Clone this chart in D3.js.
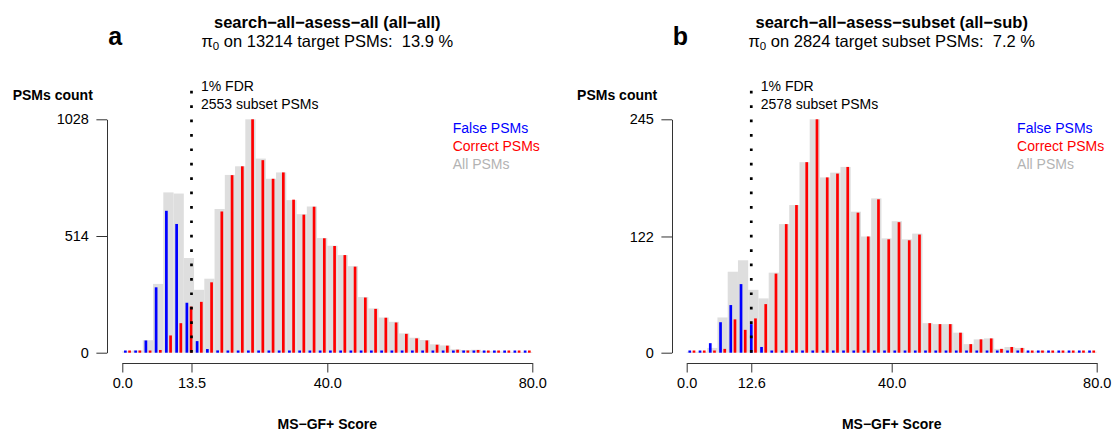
<!DOCTYPE html>
<html>
<head>
<meta charset="utf-8">
<script src="https://cdn.jsdelivr.net/npm/d3@7"></script>
<style>
  body { margin: 0; background: #fff; }
  svg text { font-family: "Liberation Sans", Arial, Helvetica, sans-serif; }
</style>
</head>
<body>
<svg id="chart" width="1112" height="432"></svg>
<script>
// score bins, width 2
var binWidth = 2;
var binStarts = [0, 2, 4, 6, 8, 10, 12, 14, 16, 18, 20, 22, 24, 26, 28, 30, 32, 34, 36, 38,
                 40, 42, 44, 46, 48, 50, 52, 54, 56, 58, 60, 62, 64, 66, 68, 70, 72, 74, 76, 78];

// panel a: search-all-asess-all
var falseA   = [2, 5, 54, 288, 625, 567, 220, 51, 16, 10, 4, 3, 3, 3, 2, 3, 2, 2, 2, 2,
                2, 2, 1, 1, 1, 1, 1, 1, 1, 1, 1, 1, 1, 1, 1, 1, 1, 1, 1, 1];
var correctA = [4, 5, 1, 12, 76, 130, 203, 224, 310, 622, 782, 821, 1028, 848, 766, 794, 674, 608, 643, 504,
                470, 430, 379, 243, 193, 154, 133, 83, 63, 54, 35, 31, 13, 9, 12, 4, 4, 3, 3, 3];
var allA     = [6, 10, 55, 303, 706, 701, 417, 277, 326, 633, 783, 821, 1028, 855, 766, 794, 672, 610, 644, 505,
                471, 430, 381, 245, 195, 155, 136, 85, 66, 56, 37, 32, 15, 12, 13, 7, 6, 4, 3, 3];
var yTicksA = [0, 514, 1028];
var xTicksA = [0, 13.5, 40, 80];
var fdrA = 13.5;

// panel b: search-all-asess-subset
var falseB   = [1, 1, 10, 32, 50, 72, 30, 6, 1, 1, 1, 1, 1, 1, 1, 1, 1, 1, 1, 1,
                1, 1, 1, 1, 1, 1, 1, 1, 1, 1, 1, 1, 1, 1, 1, 1, 1, 1, 1, 1];
var correctB = [1, 1, 1, 4, 35, 24, 36, 51, 83, 135, 155, 200, 245, 184, 188, 195, 147, 122, 161, 119,
                137, 118, 124, 31, 30, 30, 21, 9, 14, 15, 4, 6, 5, 1, 2, 1, 1, 1, 1, 1];
var allB     = [1, 1, 5, 37, 85, 97, 66, 57, 84, 135, 155, 200, 245, 184, 189, 195, 148, 122, 162, 120,
                138, 119, 125, 31, 30, 30, 21, 9, 14, 15, 4, 6, 5, 1, 2, 1, 1, 1, 1, 1];
var yTicksB = [0, 122, 245];
var xTicksB = [0, 12.6, 40, 80];
var fdrB = 12.6;

var panels = [
    { letter: "a", title: "search\u2212all\u2212asess\u2212all (all\u2212all)",
      piText: " on 13214 target PSMs:  13.9 %", subsetText: "2553 subset PSMs",
      falseV: falseA, correctV: correctA, allV: allA, yTicks: yTicksA, xTicks: xTicksA, fdr: fdrA, left: 122.3 },
    { letter: "b", title: "search\u2212all\u2212asess\u2212subset (all\u2212sub)",
      piText: " on 2824 target subset PSMs:  7.2 %", subsetText: "2578 subset PSMs",
      falseV: falseB, correctV: correctB, allV: allB, yTicks: yTicksB, xTicks: xTicksB, fdr: fdrB, left: 686.7 }
];

var svg = d3.select("#chart");
var plotW = 410, y0 = 352.7, yTop = 119.3, xAxisY = 363.3;
var barW = 2.7, minH = 2.2;

panels.forEach(function (p) {
    var g = svg.append("g");
    var x = d3.scaleLinear().domain([0, 80]).range([p.left, p.left + plotW]);
    var y = d3.scaleLinear().domain([0, p.yTicks[p.yTicks.length - 1]]).range([y0, yTop]);
    var cx = p.left + plotW / 2;

    // all PSMs (gray background bins)
    g.append("g").selectAll("rect")
        .data(binStarts)
        .join("rect")
        .attr("x", function (d) { return x(d); })
        .attr("width", function (d) { return x(d + binWidth) - x(d); })
        .attr("y", function (d, i) { return y(p.allV[i]); })
        .attr("height", function (d, i) { return y(0) - y(p.allV[i]); })
        .attr("fill", "#dedede");

    // false and correct PSMs as thin bars inside each bin
    function thinBars(values, offset, color) {
        g.append("g").selectAll("rect")
            .data(binStarts)
            .join("rect")
            .attr("x", function (d) { return x(d + offset) - barW / 2; })
            .attr("width", barW)
            .attr("y", function (d, i) { return y(0) - Math.max(y(0) - y(values[i]), minH); })
            .attr("height", function (d, i) { return Math.max(y(0) - y(values[i]), minH); })
            .attr("fill", color);
    }
    thinBars(p.falseV, 0.6, "#0000ff");
    thinBars(p.correctV, 1.42, "#ff0000");

    // 1% FDR threshold
    g.append("line")
        .attr("x1", x(p.fdr)).attr("x2", x(p.fdr))
        .attr("y1", y0).attr("y2", 86)
        .attr("stroke", "#000")
        .attr("stroke-width", 2.7)
        .attr("stroke-dasharray", "2.7 11.7");
    g.append("text").attr("x", x(p.fdr) + 9.5).attr("y", 91)
        .attr("font-size", "14px").text("1% FDR");
    g.append("text").attr("x", x(p.fdr) + 9.5).attr("y", 109)
        .attr("font-size", "14px").text(p.subsetText);

    // axes
    var yAxis = g.append("g")
        .attr("transform", "translate(" + Math.round(p.left - 15) + ",0)")
        .call(d3.axisLeft(y).tickValues(p.yTicks).tickFormat(d3.format("d"))
            .tickSize(10.6).tickPadding(7.5).tickSizeOuter(0));
    var xAxis = g.append("g")
        .attr("transform", "translate(0," + Math.round(xAxisY) + ")")
        .call(d3.axisBottom(x).tickValues(p.xTicks).tickFormat(d3.format(".1f")).tickSize(9.5).tickSizeOuter(0));
    [yAxis, xAxis].forEach(function (a) {
        a.attr("font-family", null).attr("font-size", null);
        a.select(".domain").attr("stroke", "#333");
        a.selectAll(".tick line").attr("stroke", "#333");
        a.selectAll(".tick text").attr("font-size", "14.5px").attr("fill", "#000");
    });
    xAxis.selectAll(".tick text").attr("dy", null).attr("y", 25);

    g.append("text").attr("x", p.left - 109.6).attr("y", 100)
        .attr("font-size", "14px").attr("font-weight", "bold").text("PSMs count");
    g.append("text").attr("x", cx).attr("y", 429).attr("text-anchor", "middle")
        .attr("font-size", "14px").attr("font-weight", "bold").text("MS\u2212GF+ Score");

    // titles
    g.append("text").attr("x", p.left - 14).attr("y", 45)
        .attr("font-size", "25px").attr("font-weight", "bold").text(p.letter);
    g.append("text").attr("x", cx).attr("y", 28).attr("text-anchor", "middle")
        .attr("font-size", "16.5px").attr("font-weight", "bold").text(p.title);
    var sub = g.append("text").attr("x", cx).attr("y", 46.5).attr("text-anchor", "middle")
        .attr("font-size", "16.5px").style("white-space", "pre");
    sub.append("tspan").text("\u03c0");
    sub.append("tspan").attr("font-size", "11.5px").attr("dy", 3).text("0");
    sub.append("tspan").attr("dy", -3).text(p.piText);

    // legend
    var legend = [["False PSMs", "#0000ff"], ["Correct PSMs", "#ff0000"], ["All PSMs", "#b3b3b3"]];
    g.append("g").selectAll("text")
        .data(legend)
        .join("text")
        .attr("x", p.left + 330.4)
        .attr("y", function (d, i) { return 133.3 + i * 18; })
        .attr("font-size", "14px")
        .attr("fill", function (d) { return d[1]; })
        .text(function (d) { return d[0]; });
});
</script>
</body>
</html>
